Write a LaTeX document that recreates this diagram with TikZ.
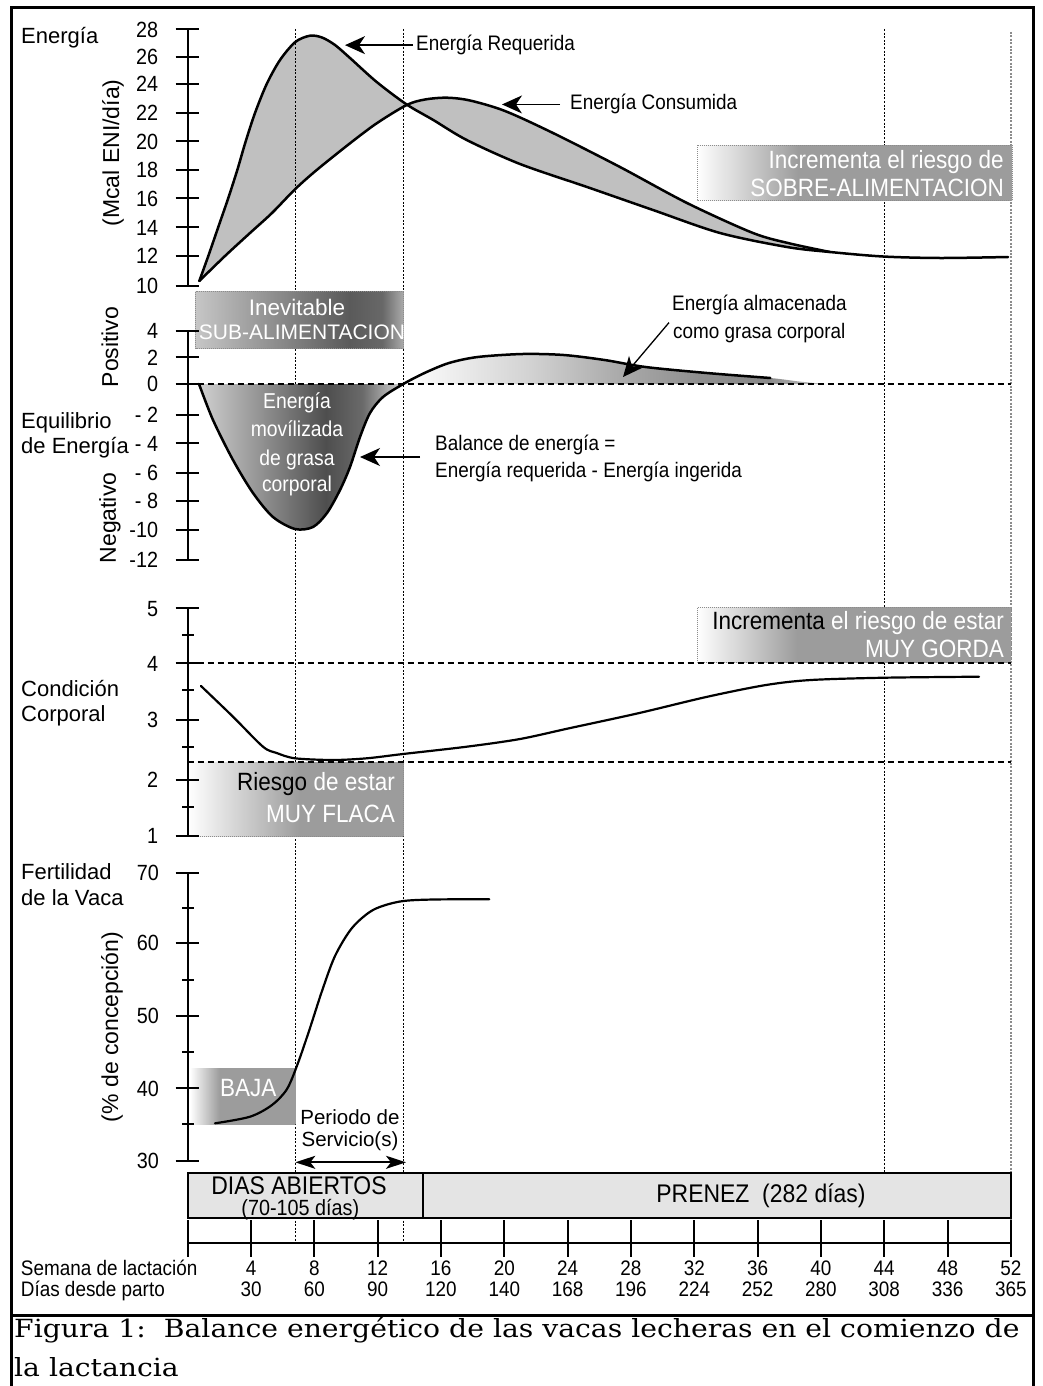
\documentclass[tikz,border=0pt]{standalone}
\usepackage{fontspec}
\setmainfont{Liberation Sans}
\newfontfamily\nf{Liberation Sans}[FakeStretch=0.9]
\newfontfamily\capfont{DejaVu Serif}[FakeStretch=1.13]
\usetikzlibrary{arrows.meta}
\definecolor{engray}{HTML}{C0C0C0}
\definecolor{boxgray}{HTML}{9C9C9C}
\definecolor{bordgray}{HTML}{8C8C8C}
\definecolor{timefill}{HTML}{E4E4E4}
\definecolor{sa}{HTML}{C6C6C6}
\definecolor{sb}{HTML}{7C7C7C}
\definecolor{sc}{HTML}{5A5A5A}
\definecolor{sd}{HTML}{686868}
\definecolor{se}{HTML}{AAAAAA}
\definecolor{ma}{HTML}{D0D0D0}
\definecolor{mb}{HTML}{8A8A8A}
\definecolor{mc}{HTML}{4E4E4E}
\definecolor{md}{HTML}{6A6A6A}
\definecolor{me}{HTML}{ACACAC}
\definecolor{pa}{HTML}{D2D2D2}
\definecolor{pb}{HTML}{ACACAC}
\definecolor{pc}{HTML}{8E8E8E}
\definecolor{pd}{HTML}{888888}
\definecolor{pe}{HTML}{C8C8C8}
\pgfdeclarehorizontalshading{fadeA}{100bp}{color(0bp)=(white); color(25bp)=(white); color(41bp)=(boxgray); color(100bp)=(boxgray)}
\pgfdeclarehorizontalshading{fadeR}{100bp}{color(0bp)=(white); color(25bp)=(white); color(51bp)=(boxgray); color(100bp)=(boxgray)}
\pgfdeclarehorizontalshading{fadeB}{100bp}{color(0bp)=(white); color(25bp)=(white); color(39bp)=(boxgray); color(100bp)=(boxgray)}
\pgfdeclarehorizontalshading{subal}{100bp}{color(0bp)=(sa); color(25bp)=(sa); color(50bp)=(sb); color(62bp)=(sc); color(70bp)=(sd); color(75bp)=(se); color(100bp)=(se)}
\pgfdeclarehorizontalshading{mobil}{100bp}{color(0bp)=(ma); color(25bp)=(ma); color(42bp)=(mb); color(56bp)=(mc); color(65bp)=(md); color(71bp)=(me); color(75bp)=(ma); color(100bp)=(ma)}
\pgfdeclarehorizontalshading{store}{100bp}{color(0bp)=(white); color(25bp)=(white); color(40bp)=(pa); color(50bp)=(pb); color(60bp)=(pc); color(68bp)=(pd); color(75bp)=(pe); color(100bp)=(pe)}
\begin{document}
\begin{tikzpicture}[x=1pt,y=-1pt,
  lbl/.style={inner sep=0pt, anchor=base west, font=\fontsize{22}{26}\selectfont},
  rlbl/.style={inner sep=0pt, rotate=90, font=\fontsize{23}{27}\selectfont},
  num/.style={inner sep=0pt, anchor=base east, font=\nf\fontsize{22}{26}\selectfont},
  wk/.style={inner sep=0pt, anchor=base, font=\nf\fontsize{21}{25}\selectfont},
  note/.style={inner sep=0pt, anchor=base west, font=\nf\fontsize{21}{25}\selectfont},
  boxtxt/.style={inner sep=0pt, anchor=base east, text=white, font=\nf\fontsize{25}{29}\selectfont},
  mobtxt/.style={inner sep=0pt, anchor=base, text=white, font=\nf\fontsize{21.5}{25}\selectfont},
  axisline/.style={line width=2.3pt},
  tickline/.style={line width=2pt},
  crv/.style={line width=2.5pt, line join=round, line cap=round},
  zeroline/.style={line width=1.8pt, dash pattern=on 6pt off 4pt},
  vline/.style={line width=0.9pt, dash pattern=on 2pt off 1.6pt},
  gline/.style={line width=1.6pt, draw=black!45, dash pattern=on 2pt off 1.4pt},
  boxedge/.style={draw=bordgray, line width=0.9pt, dash pattern=on 1pt off 1pt},
  pointer/.style={line width=1.3pt, -{Stealth[length=20pt,width=18pt,inset=6pt]}},
  frameline/.style={line width=3.3pt},
]
\useasboundingbox (0,0) rectangle (1042,1386);

% ---------- energy fill ----------
\fill[engray] plot[smooth] coordinates {(199.3,281) (208.3,256) (218.3,227) (228.3,198) (237.3,170) (245.5,142) (255,113) (266.7,84) (280,60) (295.3,42) (310,35.7) (322,37.5) (335,45) (350,58) (376.7,82) (406.7,104.5) (433.3,120) (466.7,140) (520,164) (587,187) (653,210) (720,233) (787,247) (830,252)}
 -- plot[smooth] coordinates {(830,252) (790,243.5) (753,233) (687,203) (620,167) (553,133) (505,111) (470,100.5) (446.7,97.7) (425,99.5) (406.7,105) (376.7,123.3) (350,143.3) (316.7,170) (295.3,189) (272,213) (250,233) (225,256) (199.3,281)} -- cycle;

% ---------- vertical dotted lines ----------
\foreach \x in {295.3,403.3,884.3} \draw[vline] (\x,29) -- (\x,1243.3);
\draw[gline] (1011,32) -- (1011,1243.3);

% ---------- shaded regions and boxes ----------
\shade[shading=fadeA] (697,145) rectangle (1012,200);
\draw[boxedge] (697,145) rectangle (1012,200);
\shade[shading=subal] (195.7,291.7) rectangle (403.3,348.3);
\draw[boxedge] (195.7,291.7) rectangle (403.3,348.3);
\shade[shading=mobil] plot[smooth] coordinates {(199,384) (213,420) (233,460) (253,493) (273,517) (295,529) (313,527) (327,513) (340,490) (350,467) (360,437) (370,413) (383,397) (403.3,384)} -- cycle;
\shade[shading=store] plot[smooth] coordinates {(403.3,384) (424.5,373) (449,363) (477.7,357) (522.7,354) (563.7,355) (604.6,360) (645.5,367) (706.9,373) (770.3,378) (800,381.6) (826,384)} -- cycle;
\shade[shading=fadeA] (697,607.7) rectangle (1011,662.7);
\draw[boxedge] (697,607.7) rectangle (1011,662.7);
\shade[shading=fadeR] (188,762.3) rectangle (403.3,836.3);
\draw[boxedge] (403.3,762.3) -- (403.3,836.3) -- (188,836.3);
\shade[shading=fadeB] (190,1068.3) rectangle (295.3,1124);

% ---------- dashed reference lines ----------
\draw[zeroline] (187.7,384) -- (1011,384);
\draw[zeroline] (187.7,663.3) -- (1011,663.3);
\draw[zeroline] (187.7,762.3) -- (1011,762.3);

% ---------- curves ----------
\draw[crv] plot[smooth] coordinates {(199.3,281) (208.3,256) (218.3,227) (228.3,198) (237.3,170) (245.5,142) (255,113) (266.7,84) (280,60) (295.3,42) (310,35.7) (322,37.5) (335,45) (350,58) (376.7,82) (406.7,104.5) (433.3,120) (466.7,140) (520,164) (587,187) (653,210) (720,233) (787,247) (830,252) (883,256.5) (940,258) (1008,257)};
\draw[crv] plot[smooth] coordinates {(199.3,281) (225,256) (250,233) (272,213) (295.3,189) (316.7,170) (350,143.3) (376.7,123.3) (406.7,105) (425,99.5) (446.7,97.7) (470,100.5) (505,111) (553,133) (620,167) (687,203) (753,233) (790,243.5) (830,252)};
\draw[crv] plot[smooth] coordinates {(199,384) (213,420) (233,460) (253,493) (273,517) (295,529) (313,527) (327,513) (340,490) (350,467) (360,437) (370,413) (383,397) (403.3,384) (424.5,373) (449,363) (477.7,357) (522.7,354) (563.7,355) (604.6,360) (645.5,367) (706.9,373) (770.3,378)};
\draw[crv, line width=2.2pt] plot[smooth] coordinates {(201,686) (233,716.7) (263,746.7) (276.7,753) (295,758.3) (333,760) (366.7,758.3) (403,754) (466.7,746.7) (520,739) (569,728.3) (638,713.3) (707.5,696.7) (766,685) (811,680) (884.8,677.7) (979,676.7)};
\draw[crv, line width=2.2pt] plot[smooth] coordinates {(215,1123.3) (250,1116.7) (272,1105) (287,1089) (298,1063) (310,1028) (322,991) (335,956) (352,928) (373,910) (400,901.5) (433.3,899.5) (489.3,899.3)};

% ---------- axes ----------
\draw[axisline] (187.7,29.3) -- (187.7,286);
\foreach \v/\y in {28/29.3, 26/56.7, 24/84, 22/112.7, 20/141.3, 18/170, 16/198.3, 14/227.3, 12/256, 10/286} {
  \draw[tickline] (175.7,\y) -- (199,\y);
  \node[num] (e\v) at (158.3,\y+7.8) {\v};
}
\draw[axisline] (187.7,330.7) -- (187.7,560);
\foreach \n/\y/\t in {p4/330.7/4, p2/357.3/2, z0/384/0, m2/415/- 2, m4/443.3/- 4, m6/472.7/- 6, m8/501/- 8, m10/530/-10, m12/560/-12} {
  \draw[tickline] (175.7,\y) -- (199,\y);
  \node[num] (b\n) at (158.3,\y+7.8) {\t};
}
\draw[axisline] (187.7,608.3) -- (187.7,836);
\foreach \v/\y in {5/608.3, 4/663.3, 3/720, 2/780, 1/836} {
  \draw[tickline] (175.7,\y) -- (199,\y);
  \node[num] (c\v) at (158.3,\y+7.8) {\v};
}
\foreach \y in {635, 690, 746.7, 806.7} \draw[tickline] (182,\y) -- (193.5,\y);
\draw[axisline] (187.7,872.7) -- (187.7,1160.7);
\foreach \v/\y in {70/872.7, 60/942.7, 50/1016, 40/1088.3, 30/1160.7} {
  \draw[tickline] (175.7,\y) -- (199,\y);
  \node[num] (f\v) at (159,\y+7.8) {\v};
}
\foreach \y in {908.3, 980, 1052.3, 1124.3} \draw[tickline] (182,\y) -- (193.5,\y);

% ---------- time line ----------
\draw[line width=2pt, fill=timefill] (187.7,1172.7) rectangle (423.3,1218.3);
\draw[line width=2pt, fill=timefill] (423.3,1172.7) rectangle (1011,1218.3);
\node[inner sep=0pt, anchor=base, font=\nf\fontsize{25.5}{30}\selectfont] (dias) at (299,1194.3) {DIAS ABIERTOS};
\node[inner sep=0pt, anchor=base, font=\nf\fontsize{22}{26}\selectfont] (diasn) at (300.3,1215) {(70-105 días)};
\node[inner sep=0pt, anchor=base, font=\nf\fontsize{25.5}{30}\selectfont] (prenez) at (761,1202.7) {PRENEZ\ \ (282 días)};
\draw[axisline] (187.7,1243.3) -- (1011,1243.3);
\foreach \w in {0,4,...,52} \draw[tickline] ({187.7+15.83*\w},1220) -- ({187.7+15.83*\w},1256.7);
\node[note] (sem) at (20.7,1275) {Semana de lactación};
\node[note] (ddp) at (20.7,1296.7) {Días desde parto};
\foreach \w/\d in {4/30, 8/60, 12/90, 16/120, 20/140, 24/168, 28/196, 32/224, 36/252, 40/280, 44/308, 48/336, 52/365} {
  \node[wk] (w\w) at ({187.7+15.83*\w},1275) {\w};
  \node[wk] (d\w) at ({187.7+15.83*\w},1296.7) {\d};
}

% ---------- left labels ----------
\node[lbl] (lE) at (21,43.3) {Energía};
\node[rlbl] (lM) at (113,153) {(Mcal ENI/día)};
\node[rlbl] (lP) at (110,347) {Positivo};
\node[lbl] (lEq1) at (21,428.3) {Equilibrio};
\node[lbl] (lEq2) at (21,453.3) {de Energía};
\node[rlbl] (lN) at (110,518) {Negativo};
\node[lbl] (lC1) at (21,696.7) {Condición};
\node[lbl] (lC2) at (21,721.7) {Corporal};
\node[lbl] (lF1) at (21,879.3) {Fertilidad};
\node[lbl] (lF2) at (21,905) {de la Vaca};
\node[rlbl] (lPc) at (112,1027) {(\% de concepción)};

% ---------- box texts ----------
\node[boxtxt] (sob1) at (1004,168) {Incrementa el riesgo de};
\node[boxtxt] (sob2) at (1004,196.7) {SOBRE-ALIMENTACION};
\node[inner sep=0pt, anchor=base, text=white, font=\fontsize{22.5}{26}\selectfont] (sub1) at (297,315) {Inevitable};
\begin{scope}
\clip (195.7,291.7) rectangle (403.3,348.3);
\node[inner sep=0pt, anchor=base, text=white, font=\fontsize{21}{25}\selectfont] (sub2) at (302,339.3) {SUB-ALIMENTACION};
\end{scope}
\node[mobtxt] (mob1) at (297,408.3) {Energía};
\node[mobtxt] (mob2) at (297,436.7) {movílizada};
\node[mobtxt] (mob3) at (297,465) {de grasa};
\node[mobtxt] (mob4) at (297,491.7) {corporal};
\node[boxtxt] (gor1) at (1004,629.3) {{\color{black}Incrementa} el riesgo de estar};
\node[boxtxt] (gor2) at (1004,657.7) {MUY GORDA};
\node[boxtxt] (fla1) at (395,790.7) {{\color{black}Riesgo} de estar};
\node[boxtxt] (fla2) at (395,822.7) {MUY FLACA};
\node[boxtxt, anchor=base] (baja) at (248.3,1096.7) {BAJA};

% ---------- annotations and arrows ----------
\node[note] (reqt) at (416,50.7) {Energía Requerida};
\coordinate (reqtip) at (345,44.3);
\draw[pointer] ([xshift=-3pt]reqt.west) -- (reqt.west -| reqtip);
\node[note] (const) at (570,110) {Energía Consumida};
\coordinate (constip) at (502,100);
\draw[pointer] ([xshift=-10pt]const.west) -- (const.west -| constip);
\node[note] (sto1) at (672,310) {Energía almacenada};
\node[note] (sto2) at (673,338) {como grasa corporal};
\coordinate (stotip) at (623,377);
\draw[pointer] ([xshift=-4pt]sto2.north west) -- (stotip);
\node[note] (bal1) at (435,450) {Balance de energía =};
\node[note] (bal2) at (435,477) {Energía requerida - Energía ingerida};
\coordinate (balstart) at (420,457);
\coordinate (baltip) at (360,457);
\draw[pointer] (balstart) -- (baltip);
\node[inner sep=0pt, anchor=base, font=\fontsize{20.5}{24}\selectfont] (per1) at (350,1124) {Periodo de};
\node[inner sep=0pt, anchor=base, font=\fontsize{20.5}{24}\selectfont] (per2) at (350,1146.7) {Servicio(s)};
\coordinate (perL) at (295.3,1162.3);
\coordinate (perR) at (406,1162.3);
\draw[line width=1.7pt, {Stealth[length=20pt,width=13pt,inset=5pt]}-{Stealth[length=20pt,width=13pt,inset=5pt]}] (perL) -- (perR);

% ---------- frame and caption ----------
\draw[frameline] (11.3,1386) -- (11.3,7.5) -- (1033.3,7.5) -- (1033.3,1386);
\draw[frameline] (11.3,1315.5) -- (1033.3,1315.5);
\node[inner sep=0pt, anchor=base west, font=\capfont\fontsize{25}{29}\selectfont] (cap1) at (14,1337.7) {Figura 1:\ \ Balance energético de las vacas lecheras en el comienzo de};
\node[inner sep=0pt, anchor=base west, font=\capfont\fontsize{25}{29}\selectfont] (cap2) at (14,1376) {la lactancia};
\end{tikzpicture}
\end{document}
